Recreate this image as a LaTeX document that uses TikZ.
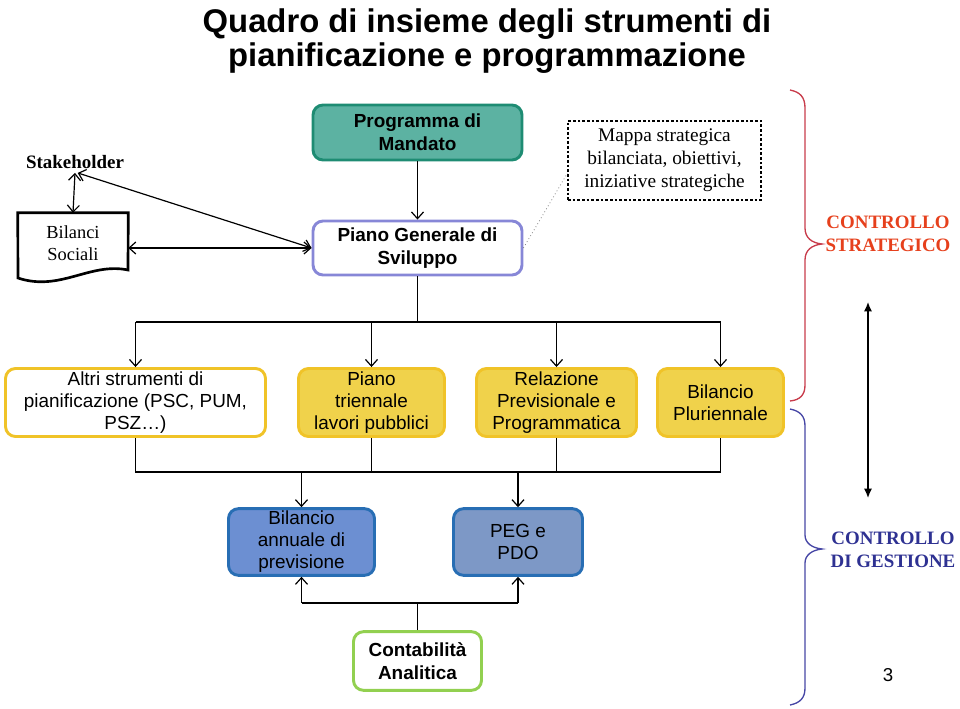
\documentclass[tikz,border=0pt]{standalone}
\usepackage{fontspec}
\setmainfont{Liberation Serif}
\setsansfont{Liberation Sans}
\usetikzlibrary{arrows.meta}
\definecolor{tealfill}{RGB}{92,178,162}
\definecolor{tealline}{RGB}{30,140,115}
\definecolor{lavline}{RGB}{135,135,215}
\definecolor{yelfill}{RGB}{240,210,75}
\definecolor{yelline}{RGB}{240,195,40}
\definecolor{blufill}{RGB}{108,143,210}
\definecolor{pegfill}{RGB}{125,152,198}
\definecolor{bluline}{RGB}{40,110,180}
\definecolor{grnline}{RGB}{146,208,80}
\definecolor{bracered}{RGB}{200,60,75}
\definecolor{textred}{RGB}{230,64,28}
\definecolor{braceblue}{RGB}{70,70,165}
\definecolor{textblue}{RGB}{46,49,146}
\begin{document}
\begin{tikzpicture}[x=0.75pt,y=-0.75pt,
  box/.style={draw, rounded corners=7.5pt, line width=2.2pt, align=center,
    font=\sffamily\fontsize{14.2}{16.5}\selectfont, inner sep=0pt},
  bbox/.style={box, font=\sffamily\bfseries\fontsize{14.2}{17.5}\selectfont},
  conn/.style={line width=0.9pt},
  arr/.style={conn,-{Straight Barb[length=5pt,width=9pt]}},
  dbl/.style={conn,{Straight Barb[length=5pt,width=9pt]}-{Straight Barb[length=5pt,width=9pt]}},
  serif/.style={font=\rmfamily\fontsize{14.5}{17.25}\selectfont, align=center},
  ctrl/.style={font=\rmfamily\bfseries\fontsize{14.2}{17.5}\selectfont, align=center}
]
\useasboundingbox (0,0) rectangle (960,709);

% title
\node[font=\sffamily\bfseries\fontsize{24.6}{25.5}\selectfont, align=center, inner sep=0pt] (title) at (487,41)
  {Quadro di insieme degli strumenti di\\pianificazione e programmazione};

% top area
\node[font=\rmfamily\bfseries\fontsize{14.2}{17}\selectfont, inner sep=3pt] (stake) at (75,162) {Stakeholder};
\node[serif, minimum width=82.5pt, minimum height=45pt, inner sep=0pt, font=\rmfamily\fontsize{13.8}{16.5}\selectfont] (bil) at (73,243) {Bilanci\\Sociali};
\draw[line width=2pt] (bil.north west) -- (bil.north east) -- (128,270)
  .. controls (90,262) and (60,292) .. (18,278) -- cycle;

\node[bbox, fill=tealfill, draw=tealline, minimum width=156.75pt, minimum height=41.25pt] (prog) at (417.5,132.5) {Programma di\\Mandato};
\node[bbox, fill=white, draw=lavline, minimum width=156.75pt, minimum height=40.5pt] (pgs) at (417.5,248) {Piano Generale di\\Sviluppo};
\node[serif, draw, line width=0.8pt, dash pattern=on 2pt off 1.5pt, minimum width=144.75pt, minimum height=59.25pt, inner sep=0pt] (mappa) at (664.5,160.5) {Mappa strategica\\bilanciata, obiettivi,\\iniziative strategiche};

\draw[arr] (prog.south) -- (pgs.north);
\draw[dbl] (stake.south) -- (bil.north);
\draw[dbl] ([xshift=2pt]stake.south) -- (pgs.west);
\draw[dbl] (bil.east |- pgs.west) -- (pgs.west);
\draw[gray, line width=0.6pt, dotted] (pgs.east) -- ([yshift=-9.4pt]mappa.west);

% middle row
\node[box, fill=white, draw=yelline, minimum width=195pt, minimum height=51pt] (altri) at (135.5,402.5) {Altri strumenti di\\pianificazione (PSC, PUM,\\PSZ\dots)};
\node[box, fill=yelfill, draw=yelline, minimum width=109.5pt, minimum height=51pt] (pt) at (371.5,402.5) {Piano\\triennale\\lavori pubblici};
\node[box, fill=yelfill, draw=yelline, minimum width=120pt, minimum height=51pt] (rel) at (556.5,402.5) {Relazione\\Previsionale e\\Programmatica};
\node[box, fill=yelfill, draw=yelline, minimum width=94.5pt, minimum height=51pt] (bp) at (720.5,402.5) {Bilancio\\Pluriennale};

\coordinate (bus1) at (417.5,322);
\draw[conn] (pgs.south) -- (pgs.south |- bus1);
\draw[conn] (altri.north |- bus1) -- (bp.north |- bus1);
\foreach \n in {altri,pt,rel,bp} \draw[arr] (\n.north |- bus1) -- (\n.north);

% lower row
\node[box, fill=blufill, draw=bluline, minimum width=109.5pt, minimum height=50pt] (ban) at (301.5,542) {Bilancio\\annuale di\\previsione};
\node[box, fill=pegfill, draw=bluline, minimum width=96.75pt, minimum height=50pt] (peg) at (518,542) {PEG e\\PDO};
\node[bbox, fill=white, draw=grnline, minimum width=96pt, minimum height=44pt] (ca) at (417.5,661) {Contabilità\\Analitica};

\coordinate (bus2) at (417.5,472);
\draw[conn] (altri.south) -- (altri.south |- bus2) -- (bp.south |- bus2) -- (bp.south);
\draw[conn] (pt.south) -- (pt.south |- bus2);
\draw[conn] (rel.south) -- (rel.south |- bus2);
\draw[arr] (ban.north |- bus2) -- (ban.north);
\draw[arr] (peg.north |- bus2) -- (peg.north);

\coordinate (bus3) at (417.5,603);
\draw[conn] (ca.north) -- (ca.north |- bus3);
\draw[conn] (ban.south |- bus3) -- (peg.south |- bus3);
\draw[arr] (ban.south |- bus3) -- (ban.south);
\draw[arr] (peg.south |- bus3) -- (peg.south);

% braces
\draw[bracered, line width=1pt] (790,90) .. controls (800,92) and (805,97) .. (805,108) -- (805,228)
  .. controls (805,238) and (812,243) .. (822,244) .. controls (812,245) and (805,250) .. (805,260)
  -- (805,385) .. controls (805,395) and (800,400) .. (790,401);
\node[ctrl, text=textred] (cs) at (888,234) {CONTROLLO\\STRATEGICO};

\draw[braceblue, line width=1pt] (790,409) .. controls (800,411) and (805,416) .. (805,426) -- (805,535)
  .. controls (805,543) and (812,548) .. (822,549) .. controls (812,550) and (805,555) .. (805,563)
  -- (805,688) .. controls (805,698) and (800,703) .. (790,705);
\node[ctrl, text=textblue] (cg) at (893,550) {CONTROLLO\\DI GESTIONE};

\coordinate (vt) at (868,302);
\coordinate (vb) at (868,498);
\draw[line width=1pt, {Latex[length=7pt,width=6pt]}-{Latex[length=7pt,width=6pt]}] (vt) -- (vb);

\node[font=\sffamily\fontsize{14}{16}\selectfont] (pagenum) at (888,675) {3};
\end{tikzpicture}
\end{document}
